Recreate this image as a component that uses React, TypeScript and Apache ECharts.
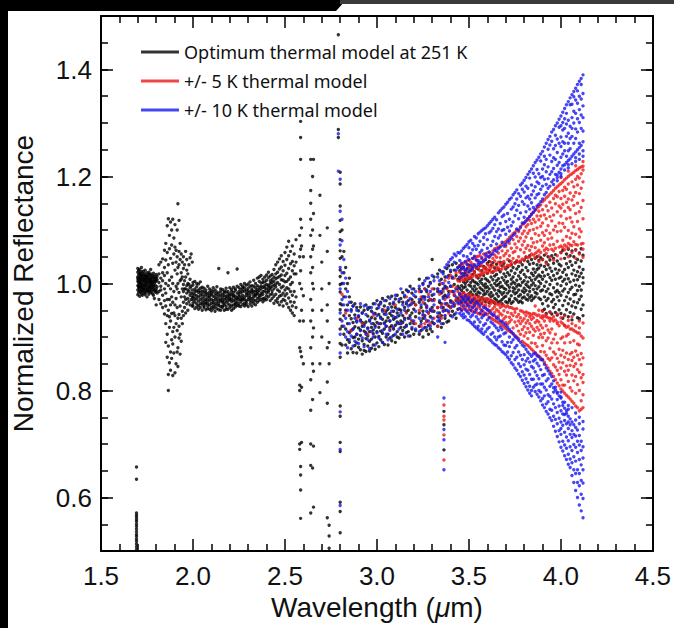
import React, { useEffect, useRef } from "react";
import * as echarts from "echarts";

// ---- Axis / legend text ----
const yMajorTicks = [0.6, 0.8, 1.0, 1.2, 1.4];
const legendNames = ["Optimum thermal model at 251 K", "+/- 5 K thermal model", "+/- 10 K thermal model"];

// ---- Data: each row is [wavelength (µm), reflectance, reflectance, ...] ----
// Optimum model (black)
const blackEdge = [
  [1.693, .503, .508, .513, .518, .522, .527, .531, .536, .541, .546, .55, .555, .559, .563, .567, .571, .634, .657],
];
const blackBlob = [
  [1.700, 1.012, .996, 1.021, .988, 1.004, .979, 1.028, 1.009],
  [1.705, .992, 1.016, 1.001, .983, 1.024, 1.007, .995],
  [1.710, 1.003, .987, 1.018, .976, 1.011, .998, 1.026, .991],
  [1.715, 1.008, .994, 1.019, .984, 1.002, 1.013],
  [1.720, .999, 1.022, .981, 1.007, .993, 1.015, .986, 1.03],
  [1.725, 1.005, .989, 1.017, .997, 1.011, .978],
  [1.730, 1.001, .985, 1.014, .994, 1.023, 1.008, .99],
  [1.735, .996, 1.01, .982, 1.019, 1.004, .988],
  [1.740, 1.006, .991, 1.016, .979, 1.025, .998, 1.012],
  [1.745, 1.002, .987, 1.014, .995, 1.009, .983],
  [1.750, .997, 1.02, .989, 1.006, .975, 1.013, 1.001],
  [1.755, 1.004, .992, 1.017, .986, 1.01],
  [1.760, 1.008, .985, .999, 1.021, .993, 1.013, .98],
  [1.765, .995, 1.007, .988, 1.016, 1.002],
  [1.770, 1.003, .99, 1.018, .997, 1.009, .983, 1.026],
  [1.775, .998, 1.012, .986, 1.004, .992],
  [1.780, 1.006, .994, 1.015, .981, 1.001, 1.011],
  [1.785, .989, 1.003, 1.019, .996, .978],
  [1.790, 1.001, .987, 1.014, .993, 1.008, .972],
  [1.795, .997, 1.011, .984, 1.005],
  [1.800, 1.004, .99, 1.017, .986, 1.009, .96],
  [1.805, .994, 1.007, .982, 1.013],
];
const blackScatter = [
  [1.815, 1.002, .985, 1.018, .97, 1.035],
  [1.825, .995, 1.01, .962, 1.04, .988],
  [1.835, 1.005, .978, 1.046, .955, 1.02],
  [1.845, .99, 1.062, .943, 1.015, .968, 1.03],
  [1.852, 1.075, .925, 1.0, .958, 1.044, .89, .982],
  [1.860, 1.108, .905, 1.02, .94, .97, 1.058, .862],
  [1.866, 1.121, .8, .883, .996, .95, 1.035, .83],
  [1.872, 1.09, .918, .97, 1.065, .852, 1.006, .938],
  [1.878, 1.115, .872, .99, 1.047, .93, .96, .838],
  [1.884, 1.1, .895, 1.012, .944, 1.072, .975, .86],
  [1.890, 1.12, .828, .965, 1.038, .91, 1.0, .887],
  [1.896, 1.085, .945, .87, 1.055, .985, .918],
  [1.902, 1.11, .96, .833, 1.025, .9, 1.068, .94],
  [1.908, 1.062, .925, .995, .85, 1.04, .972],
  [1.914, 1.1, .912, 1.018, .872, .955, 1.05, .99],
  [1.918, 1.149, .88, 1.03, .935, .845, 1.0],
  [1.924, 1.118, .942, 1.06, .898, .983, 1.035, .92],
  [1.930, 1.045, .958, 1.075, .905, 1.005, .868],
  [1.936, 1.02, .935, 1.055, .975, .892, 1.008],
  [1.942, .99, 1.04, .948, 1.012, .925],
  [1.948, 1.05, .965, .998, .94, 1.028, .985],
  [1.954, .975, 1.035, .955, 1.005, .99],
  [1.960, 1.06, .97, .99, .945, 1.012],
  [1.966, .982, 1.025, .962, .996, 1.045],
  [1.972, 1.0, .972, .988, 1.018, .95],
  [1.978, .985, 1.035, .966, .998],
  [1.984, 1.048, .978, .992, .96, 1.008],
  [1.990, .982, 1.055, .97, .995],
  [1.996, 1.04, .975, .988, .958],
];
const blackBand = [
  [2.00, .981, .958, .997, .969, 1.002, .975, .963],
  [2.01, .966, .99, .953, .979, .972, 1.004, .985],
  [2.02, .994, .971, .962, .986, .956, .977, 1.0],
  [2.03, .959, .983, .975, .999, .967, .952, .988],
  [2.04, .978, .962, 1.003, .97, .991, .984, .955],
  [2.05, .95, .973, .986, .961, .98, .993, .966],
  [2.06, .984, .955, .969, .991, .958, .976, .963],
  [2.07, .962, .979, .951, .971, .988, .966, .983],
  [2.08, .975, .995, .963, .953, .981, .969, .958],
  [2.09, .952, .968, .984, .974, .96, .99, .978],
  [2.10, .987, .963, .955, .979, .97, .949, .982],
  [2.11, .968, .958, .992, .964, .976, .985, .953],
  [2.12, .956, .981, .97, .948, .988, .962, .975],
  [2.13, .979, .966, .953, .984, .96, .972, .994],
  [2.14, .963, 1.028, .976, .951, .969, .982, .959],
  [2.15, .985, .957, .967, .978, .95, .99, .971],
  [2.16, .958, .974, .989, .965, .98, .955, .968],
  [2.17, .977, .96, .95, .986, .97, .963, .983],
  [2.18, .966, .984, .972, .957, .991, .976, .952],
  [2.19, .952, 1.02, .962, .979, .968, .985, .974],
  [2.20, .981, .969, .955, .972, .992, .96, .977],
  [2.21, .971, .95, .985, .966, .958, .979, .989],
  [2.22, .96, .978, .968, .993, .975, .953, .983],
  [2.23, .987, .964, .976, .956, .97, .99, .961],
  [2.24, .974, 1.027, .959, .982, .965, .971, .995],
  [2.25, .958, .98, .992, .97, .962, .985, .976],
  [2.26, .983, .966, .975, .998, .957, .989, .97],
  [2.27, .969, .991, .961, .978, .995, .972, .985],
  [2.28, .992, .975, .958, .986, .97, .963, 1.0],
  [2.29, .964, .982, .997, .968, .988, .978, .96],
  [2.30, .986, .97, .981, .957, .999, .975, .991],
  [2.31, .973, .995, .962, .984, .978, 1.003, .968],
  [2.32, .958, .983, .99, .972, .996, .966, .987],
  [2.33, .995, .969, .979, 1.006, .963, .985, .975],
  [2.34, .977, 1.0, .986, .968, .992, .98, .96],
  [2.35, .989, .972, 1.01, .981, .965, .996, .984],
  [2.36, .968, .993, .978, 1.004, .987, .974, 1.012],
  [2.37, 1.001, .982, .97, .995, 1.015, .978, .99],
  [2.38, .985, 1.008, .993, .972, .98, 1.002, .966],
  [2.39, .973, .996, 1.012, .986, 1.003, .969, .992],
  [2.40, .998, .977, .99, 1.016, .983, 1.006, .97],
  [2.41, .988, 1.011, .975, .997, 1.021, .984, .994],
  [2.42, 1.005, .979, .993, .968, 1.014, .99, 1.0],
  [2.43, .981, 1.017, 1.002, .986, .972, 1.008, .995],
  [2.44, 1.012, .99, .976, 1.026, .997, 1.004, .963],
  [2.45, .994, 1.035, .98, 1.009, .968, 1.018, .999],
  [2.46, 1.021, .972, 1.002, .988, 1.04, .965, 1.011],
  [2.47, .985, 1.013, 1.046, .976, .998, 1.027, .96],
  [2.48, 1.007, .966, 1.031, .992, 1.016, .978, 1.052],
  [2.49, .97, 1.024, .995, 1.041, .982, 1.006, .958],
  [2.50, 1.015, .988, 1.058, .968, 1.003, 1.034, .977],
  [2.51, .992, 1.045, .962, 1.019, .981, 1.068, 1.004],
  [2.52, 1.028, .973, 1.008, .955, 1.052, .99, 1.079],
  [2.53, .966, 1.012, 1.037, .985, 1.06, .95, .998],
  [2.54, 1.041, .978, 1.002, 1.07, .958, 1.024, .945],
  [2.55, .985, 1.055, .965, 1.018, .94, 1.033],
  [2.56, 1.018, .975, 1.082, .955, 1.04],
];
const blackSparse = [
  [2.580, 1.09, 1.05, 1.0, .93, .88, .81, .8, .7, .69],
  [2.585, 1.303, 1.273, 1.232, 1.12, 1.064, 1.024, .873, .658, .642, .614, .561],
  [2.590, 1.104, 1.07, .99, .95, .863, .806, .703],
  [2.600, 1.05, .977, .93, .85],
  [2.640, 1.232, 1.174, 1.15, 1.12, 1.09, 1.05, 1.02, .97, .93, .88, .82, .763, .70, .66, .571],
  [2.650, 1.2, 1.1, 1.064, 1.03, 1.0, .95, .9, .85, .783, .655],
  [2.655, 1.232, 1.131, 1.07, .99, .917, .836, .696, .582],
  [2.690, 1.165, 1.09, .85, .796],
  [2.700, 1.04, .99, .95, .9],
  [2.730, 1.104, 1.06, .96, .93, .88, .816, .776, .562],
  [2.740, 1.0, .89, .85, .548, .528, .505],
  [2.790, 1.465, 1.288, 1.273],
  [2.800, 1.208, 1.186, 1.145, 1.118, 1.097, 1.082, 1.061, 1.047, 1.025, 1.013, .998, .984, .962, .951, .933, .915, .888, .862, .771, .752, .703, .686, .591, .574, .534],
];
const blackMid = [
  [2.81, 1.05, 1.0, .96, .92, 1.1, .885],
  [2.82, 1.02, .975, .94, .905, 1.06],
  [2.83, .99, .95, .915, 1.03, .885],
  [2.84, .96, .925, 1.0, .895, .87],
  [2.85, .94, .908, .975, .89, 1.01],
  [2.86, .912, .951, .878, .934, .965],
  [2.87, .899, .927, .958, .871, .915],
  [2.88, .941, .884, .919, .9, .962],
  [2.89, .87, .93, .905, .955, .889],
  [2.90, .917, .949, .881, .938, .896],
  [2.91, .903, .876, .932, .956, .913],
  [2.92, .945, .92, .893, .868, .927],
  [2.93, .886, .911, .95, .924, .875],
  [2.94, .928, .897, .873, .96, .908],
  [2.95, .902, .939, .917, .883, .952],
  [2.96, .955, .874, .91, .93, .892],
  [2.97, .918, .896, .948, .879, .936],
  [2.98, .885, .925, .962, .906, .913],
  [2.99, .934, .9, .877, .944, .921],
  [3.00, .91, .953, .889, .927, .968],
  [3.01, .942, .882, .918, .96, .901],
  [3.02, .925, .965, .895, .937, .911],
  [3.03, .89, .933, .951, .907, .972],
  [3.04, .958, .915, .886, .943, .926],
  [3.05, .93, .9, .968, .92, .948],
  [3.06, .905, .952, .936, .885, .975],
  [3.07, .944, .918, .898, .962, .93],
  [3.08, .921, .976, .94, .893, .956],
  [3.09, .962, .903, .933, .948, .915],
  [3.10, .936, .955, .89, .971, .922],
  [3.11, .91, .945, .978, .928, .9],
  [3.12, .952, .925, .898, .966, .94],
  [3.13, .93, .972, .918, .95, .905],
  [3.14, .965, .912, .94, .983, .927],
  [3.15, .918, .955, .935, .9, .975],
  [3.16, .947, .988, .922, .962, .908],
  [3.17, .935, .91, .968, .95, .985],
  [3.18, .96, .925, .995, .94, .902],
  [3.19, .915, .97, .945, .982, .93],
  [3.20, .952, .99, .925, .965, .905],
  [3.21, .938, .975, .912, .96],
  [3.23, .965, .92, .99, .945, .905, 1.008],
  [3.24, .93, .985, .955, .912, .97],
  [3.25, .975, .948, .9, 1.0, .935],
  [3.26, .918, .962, .99, .94, .975],
  [3.27, .985, .93, .955, 1.01, .912],
  [3.28, .945, .995, .922, .968, .905],
  [3.29, .97, .915, 1.002, .95, .938],
  [3.30, .928, .978, .955, 1.045, .91],
  [3.31, .99, .948, .97, .925, 1.012],
  [3.33, .955, 1.018, .938, .985, .92],
  [3.34, .998, .93, .965, 1.025, .945],
  [3.35, .94, .982, 1.008, .918, .962],
  [3.36, .975, .925, .99, .955, 1.022],
  [3.364, .761, .736, .689],
  [3.37, .95, 1.012, .935, .978, .995],
  [3.38, .992, .962, 1.028, .928, .975],
  [3.39, .93, .985, .958, 1.015, 1.033],
  [3.40, .968, 1.022, .94, .995, .955],
  [3.41, 1.01, .948, .985, 1.035, .965],
  [3.42, .958, .998, 1.025, .942, .978],
  [3.43, .99, .935, 1.015, .968, 1.038],
  [3.44, .972, 1.03, .952, .995, 1.008],
];
const blackWide = [
  [3.45, .991, .968, 1.024, .979, 1.006, 1.033],
  [3.46, 1.012, .975, .996, .964, 1.029, .987],
  [3.47, .983, 1.018, .97, 1.003, .992, 1.031],
  [3.48, 1.021, .966, .994, 1.008, .977, 1.0],
  [3.49, .973, 1.004, 1.027, .988, .963, 1.015],
  [3.50, 1.009, .981, .969, 1.034, .997, .976],
  [3.51, .995, 1.026, .984, .965, 1.011, 1.002],
  [3.52, .968, .99, 1.017, 1.031, .979, 1.006],
  [3.53, 1.003, .972, 1.022, .986, .995, .963],
  [3.54, .98, 1.014, .967, 1.001, 1.029, .99],
  [3.55, 1.027, .998, .976, 1.01, .966, .984],
  [3.56, .992, .969, 1.033, .982, 1.016, 1.004],
  [3.57, .974, 1.008, .989, 1.024, .963, 1.0],
  [3.58, 1.015, .986, .97, .996, 1.032, .979],
  [3.59, .999, 1.028, .981, .966, 1.009, .992],
  [3.60, .985, .971, 1.019, 1.038, .994, 1.006],
  [3.61, 1.025, .99, .964, 1.003, .979, 1.041],
  [3.62, .968, 1.012, .997, .983, 1.034, .975],
  [3.63, 1.007, .978, 1.039, .992, .966, 1.021],
  [3.64, .988, 1.029, .972, 1.014, 1.0, .963],
  [3.65, 1.036, .996, .981, .969, 1.017, 1.005],
  [3.66, .976, 1.009, 1.026, .987, .965, .998],
  [3.67, 1.002, .967, .993, 1.04, .984, 1.022],
  [3.68, .98, 1.033, 1.011, .97, .995, .962],
  [3.69, 1.018, .991, .974, 1.006, 1.038, .983],
  [3.70, .966, 1.001, 1.027, .989, .976, 1.013],
  [3.71, 1.031, .982, .997, .964, 1.02, 1.004],
  [3.72, .993, 1.016, .971, 1.042, .986, .968],
  [3.73, 1.008, .977, 1.035, .999, .963, 1.024],
  [3.74, .985, 1.012, .966, 1.003, 1.03, .992],
  [3.75, 1.039, .972, .99, 1.019, .981, 1.0],
  [3.76, .969, 1.027, 1.006, .983, 1.041, .995],
  [3.77, 1.014, .988, .965, 1.032, .998, .976],
  [3.78, .996, 1.04, .979, 1.009, .967, 1.021],
  [3.79, 1.025, .973, 1.002, .986, 1.035, .964],
  [3.80, .991, 1.017, 1.044, .975, 1.005, .983],
  [3.81, 1.03, .998, .971, 1.012, 1.049, .987],
  [3.82, .979, 1.024, 1.003, 1.041, .969, .995],
  [3.83, 1.011, .985, 1.036, .992, 1.052, .974],
  [3.84, .997, 1.045, .977, 1.019, 1.006, .968],
  [3.85, 1.038, 1.001, .989, .972, 1.027, 1.015],
  [3.86, .983, 1.021, 1.047, 1.008, .975, .996],
  [3.87, 1.026, .99, 1.012, 1.05, .981, 1.035],
  [3.88, 1.004, 1.043, .973, 1.029, .994, 1.016],
  [3.89, 1.048, 1.013, .986, 1.034, 1.0, .97],
  [3.90, .962, 1.021, 1.045, .988, 1.008, .949],
  [3.91, 1.032, .975, .952, 1.014, 1.053, .995],
  [3.92, .985, 1.04, 1.003, .944, .968, 1.026],
  [3.93, 1.05, .958, 1.017, .99, 1.035, .972],
  [3.94, .947, 1.011, .981, 1.044, .998, 1.029],
  [3.95, 1.023, .966, 1.052, .979, .943, 1.006],
  [3.96, .992, 1.038, .955, 1.015, .97, 1.047],
  [3.97, 1.008, .946, 1.027, .984, 1.054, .961],
  [3.98, .975, 1.019, .999, .941, 1.042, .987],
  [3.99, 1.036, .983, .951, 1.01, .968, 1.025],
  [4.00, .944, 1.012, 1.058, .978, .996, 1.033],
  [4.01, 1.021, .959, .986, 1.062, .935, 1.004],
  [4.02, .99, 1.047, .968, 1.026, 1.008, .941],
  [4.03, 1.055, .975, 1.016, .951, .999, 1.037],
  [4.04, .962, 1.03, .983, 1.064, 1.009, .938],
  [4.05, 1.003, .946, 1.041, .971, 1.052, .989],
  [4.06, 1.034, .993, .958, 1.018, .932, 1.061],
  [4.07, .979, 1.05, 1.006, .943, 1.025, .966],
  [4.08, 1.015, .955, 1.063, .997, .98, 1.039],
  [4.09, .936, 1.022, .987, 1.045, .964, 1.007],
  [4.10, 1.057, .97, 1.013, .934, 1.031, .995],
  [4.11, .988, 1.042, .952, 1.019, 1.065, .976],
  [4.12, 1.026, .96, 1.001, 1.053, .94, 1.011],
];

// +/- 5 K model (red)
const redMid = [
  [2.81, .98], [2.83, .945], [2.86, .912], [2.89, .935], [2.92, .925], [2.95, .905],
  [2.98, .94], [3.01, .925], [3.04, .95], [3.07, .915], [3.10, .96], [3.13, .925],
  [3.16, .945, .975], [3.19, .93, .965], [3.21, .96, .925], [3.23, .95, .985],
  [3.24, .92, .975], [3.25, .965, .94], [3.26, .99, .925], [3.27, .958, .93],
  [3.28, .98, .945], [3.29, .925, .97], [3.30, .99, .95], [3.31, .968, .935],
  [3.33, .955, .99, .92], [3.34, .98, .94], [3.35, .96, 1.0, .935], [3.36, .985, .95],
  [3.364, .773, .752, .745, .717, .67],
  [3.37, .97, 1.005, .94], [3.38, .99, .96], [3.39, .975, 1.01, .945],
  [3.40, .985, .955, 1.015], [3.41, .995, .965], [3.42, .98, 1.01, .96],
  [3.43, .992, .97, 1.02], [3.44, .985, 1.005, .962],
];
const redWide = [
  [3.45, 1.021, 1.004, 1.033, 1.012, .968, .953, .981, .975],
  [3.46, 1.009, 1.03, 1.018, 1.036, .958, .979, .951, .971],
  [3.47, 1.027, 1.006, 1.038, 1.015, .975, .962, .983, .953],
  [3.48, 1.013, 1.04, 1.024, 1.007, .955, .98, .967, .972],
  [3.49, 1.035, 1.019, 1.009, 1.042, .978, .949, .964, .959],
  [3.50, 1.022, 1.044, 1.011, 1.031, .961, .974, .952, .98],
  [3.51, 1.04, 1.016, 1.028, 1.01, .95, .969, .977, .958],
  [3.52, 1.025, 1.047, 1.013, 1.036, .972, .947, .963, .955],
  [3.53, 1.018, 1.033, 1.048, 1.021, .958, .976, .949, .967],
  [3.54, 1.044, 1.012, 1.029, 1.05, .946, .962, .971, .953],
  [3.55, 1.03, 1.051, 1.016, 1.039, .968, .944, .975, .957],
  [3.56, 1.014, 1.037, 1.052, 1.024, .953, .972, .961, .943],
  [3.57, 1.046, 1.021, 1.033, 1.017, .965, .942, .973, .95],
  [3.58, 1.028, 1.055, 1.019, 1.042, .947, .958, .941, .969],
  [3.59, 1.051, 1.03, 1.022, 1.045, .96, .972, .944, .955],
  [3.60, 1.036, 1.019, 1.057, 1.026, .942, .966, .951, .97],
  [3.61, 1.024, 1.049, 1.032, 1.058, .958, .937, .97, .946],
  [3.62, 1.055, 1.029, 1.04, 1.021, .963, .949, .935, .968],
  [3.63, 1.033, 1.061, 1.022, 1.047, .94, .967, .953, .933],
  [3.64, 1.042, 1.024, 1.065, 1.053, .957, .931, .946, .965],
  [3.65, 1.066, 1.031, 1.049, 1.025, .936, .962, .929, .951],
  [3.66, 1.029, 1.057, 1.04, 1.068, .948, .927, .96, .939],
  [3.67, 1.048, 1.026, 1.07, 1.035, .962, .944, .924, .955],
  [3.68, 1.061, 1.039, 1.027, 1.073, .93, .958, .941, .921],
  [3.69, 1.032, 1.076, 1.052, 1.041, .949, .919, .959, .934],
  [3.70, 1.069, 1.03, 1.056, 1.078, .938, .956, .916, .927],
  [3.71, 1.045, 1.082, 1.034, 1.061, .924, .946, .958, .913],
  [3.72, 1.075, 1.052, 1.033, 1.086, .955, .911, .937, .928],
  [3.73, 1.041, 1.089, 1.066, 1.036, .932, .955, .909, .944],
  [3.74, 1.082, 1.047, 1.093, 1.058, .917, .94, .953, .906],
  [3.75, 1.06, 1.038, 1.096, 1.074, .946, .903, .928, .952],
  [3.76, 1.088, 1.043, 1.067, 1.1, .921, .953, .9, .938],
  [3.77, 1.05, 1.097, 1.04, 1.079, .942, .911, .93, .897],
  [3.78, 1.104, 1.063, 1.085, 1.042, .905, .949, .925, .936],
  [3.79, 1.072, 1.11, 1.046, 1.093, .93, .892, .948, .914],
  [3.80, 1.058, 1.098, 1.113, 1.043, 1.079, .919, .889, .945, .902, .934],
  [3.81, 1.106, 1.05, 1.087, 1.117, 1.066, .94, .908, .886, .926, .947],
  [3.82, 1.071, 1.121, 1.048, 1.094, 1.11, .897, .931, .945, .884, .916],
  [3.83, 1.118, 1.062, 1.099, 1.05, 1.125, .925, .881, .909, .944, .938],
  [3.84, 1.084, 1.13, 1.055, 1.112, 1.069, .889, .941, .92, .877, .933],
  [3.85, 1.101, 1.053, 1.133, 1.076, 1.12, .936, .903, .874, .944, .915],
  [3.86, 1.067, 1.137, 1.093, 1.056, 1.115, .911, .87, .943, .927, .888],
  [3.87, 1.126, 1.078, 1.141, 1.059, 1.104, .882, .94, .867, .918, .931],
  [3.88, 1.09, 1.144, 1.062, 1.119, 1.135, .928, .899, .941, .864, .913],
  [3.89, 1.147, 1.081, 1.126, 1.058, 1.107, .873, .937, .861, .905, .922],
  [3.90, 1.113, 1.153, 1.07, 1.138, 1.095, .94, .884, .858, .917, .899],
  [3.91, 1.076, 1.128, 1.156, 1.09, 1.062, .907, .853, .93, .872, .939],
  [3.92, 1.145, 1.099, 1.066, 1.16, 1.121, .866, .921, .847, .938, .893],
  [3.93, 1.108, 1.163, 1.083, 1.136, 1.063, .936, .86, .898, .842, .913],
  [3.94, 1.152, 1.072, 1.125, 1.167, 1.094, .879, .935, .836, .908, .857],
  [3.95, 1.085, 1.17, 1.117, 1.064, 1.141, .915, .832, .889, .934, .861],
  [3.96, 1.128, 1.073, 1.174, 1.1, 1.159, .848, .93, .826, .896, .872],
  [3.97, 1.165, 1.107, 1.066, 1.149, 1.178, .905, .82, .868, .932, .844],
  [3.98, 1.079, 1.134, 1.181, 1.097, 1.162, .838, .928, .814, .889, .86],
  [3.99, 1.172, 1.068, 1.145, 1.113, 1.184, .921, .853, .809, .877, .83],
  [4.00, 1.098, 1.187, 1.126, 1.07, 1.159, 1.141, .866, .803, .928, .842, .897, .82],
  [4.01, 1.174, 1.112, 1.19, 1.081, 1.148, 1.067, .81, .875, .925, .799, .852, .9],
  [4.02, 1.135, 1.194, 1.072, 1.163, 1.105, 1.18, .889, .795, .836, .921, .862, .81],
  [4.03, 1.088, 1.152, 1.197, 1.121, 1.069, 1.176, .829, .918, .791, .87, .846, .902],
  [4.04, 1.186, 1.099, 1.142, 1.2, 1.075, 1.158, .905, .788, .858, .817, .92, .838],
  [4.05, 1.123, 1.203, 1.085, 1.169, 1.138, 1.072, .847, .915, .784, .89, .805, .868],
  [4.06, 1.19, 1.071, 1.156, 1.115, 1.205, 1.094, .78, .871, .829, .915, .799, .856],
  [4.07, 1.146, 1.208, 1.078, 1.181, 1.106, 1.163, .893, .776, .845, .912, .818, .862],
  [4.08, 1.092, 1.17, 1.211, 1.131, 1.073, 1.195, .826, .91, .771, .874, .85, .795],
  [4.09, 1.2, 1.116, 1.072, 1.184, 1.15, 1.213, .866, .768, .908, .811, .839, .887],
  [4.10, 1.134, 1.216, 1.087, 1.168, 1.197, 1.102, .8, .885, .762, .907, .834, .858],
  [4.11, 1.178, 1.097, 1.218, 1.142, 1.074, 1.205, .869, .781, .902, .824, .765, .848],
  [4.12, 1.121, 1.19, 1.075, 1.212, 1.155, 1.219, .792, .861, .768, .898, .83, .815],
];
const redFringe = [
  [3.86, 1.048, .958],
  [3.88, 1.052, 1.041, .95],
  [3.90, 1.045, .948, .935],
  [3.92, 1.056, 1.038, .942],
  [3.94, 1.049, .946, .93],
  [3.96, 1.061, 1.044, .938],
  [3.98, 1.052, .943, .925],
  [4.00, 1.058, 1.046, 1.198, .936],
  [4.02, 1.063, .94, .922],
  [4.04, 1.05, 1.066, 1.21, .931],
  [4.06, 1.058, .925, .938],
  [4.08, 1.047, 1.062, 1.22, .921],
  [4.10, 1.055, .93, .917],
  [4.12, 1.064, 1.049, 1.228, .926],
];

// +/- 10 K model (blue)
const blueMid = [
  [2.79, 1.28, 1.21],
  [2.80, 1.195, 1.135, 1.072, 1.03, .99, .945, .905, .87, .76, .69, .585],
  [2.81, 1.08, 1.02, .97, .93, 1.12],
  [2.82, 1.0, .96, .92, 1.045],
  [2.83, .975, .935, .9, 1.01],
  [2.84, .95, .91, .985, .88],
  [2.85, .925, .965, .895],
  [2.86, .948, .902],
  [2.87, .915, .958, .883],
  [2.88, .935, .892],
  [2.89, .905, .95, .928],
  [2.90, .888, .94],
  [2.91, .93, .912, .962],
  [2.92, .898, .945],
  [2.93, .92, .958, .882],
  [2.94, .942, .905],
  [2.95, .915, .895, .955],
  [2.96, .932, .878],
  [2.97, .955, .91, .925],
  [2.98, .9, .945],
  [2.99, .918, .885, .962],
  [3.00, .94, .908],
  [3.01, .898, .955, .925],
  [3.02, .935, .962],
  [3.03, .912, .89, .948],
  [3.04, .968, .925],
  [3.05, .905, .942, .92],
  [3.06, .955, .895],
  [3.07, .93, .972, .912],
  [3.08, .948, .9],
  [3.09, .918, .965, .938],
  [3.10, .905, .978],
  [3.11, .952, .925, .938],
  [3.12, .915, .97],
  [3.13, .945, .99, .925],
  [3.14, .905, .96],
  [3.15, .932, .978, .95],
  [3.16, .92, .965],
  [3.17, .958, .902, .985],
  [3.18, .935, .972],
  [3.19, .962, .918, .99],
  [3.20, .93, .978],
  [3.21, .948, .915, .985],
  [3.23, .935, .97, .91, .995],
  [3.24, .96, .925, .985],
  [3.25, .942, .998, .915, .975],
  [3.26, .97, .935, 1.005],
  [3.27, .918, .958, .988, .948],
  [3.28, .975, .93, 1.01],
  [3.29, .952, .92, .985, 1.0],
  [3.30, .935, .968, 1.015, .948],
  [3.31, .98, .925, .96, 1.005],
  [3.33, .945, .99, .93, 1.012, .9],
  [3.34, .968, 1.005, .935, .985],
  [3.35, .955, .925, 1.022, .985],
  [3.36, 1.0, .948, .972, 1.018],
  [3.364, .786, .727, .708, .652],
  [3.37, .962, 1.03, .94, .992, .89],
  [3.38, .975, 1.012, .95, 1.035],
  [3.39, 1.002, .948, 1.04, .98],
  [3.40, .965, 1.025, .995, 1.045],
  [3.41, 1.012, .958, 1.048, .938],
  [3.42, .985, 1.04, .962, 1.055],
  [3.43, 1.025, .975, 1.052, .945],
  [3.44, .99, 1.058, .965, 1.03],
];
const blueWide = [
  [3.45, 1.032, 1.011, 1.057, 1.043, .962, .944, .981, .953],
  [3.46, 1.019, 1.061, 1.038, 1.027, .975, .949, .967, .94],
  [3.47, 1.052, 1.03, 1.014, 1.066, .943, .972, .958, .936],
  [3.48, 1.041, 1.069, 1.025, 1.017, .966, .938, .977, .951],
  [3.49, 1.028, 1.05, 1.073, 1.036, .947, .97, .932, .96],
  [3.50, 1.067, 1.022, 1.045, 1.078, .957, .931, .973, .944],
  [3.51, 1.034, 1.081, 1.056, 1.024, .938, .965, .927, .95],
  [3.52, 1.075, 1.047, 1.028, 1.063, .969, .924, .955, .941],
  [3.53, 1.051, 1.088, 1.035, 1.07, .928, .959, .92, .946],
  [3.54, 1.085, 1.032, 1.064, 1.044, .951, .917, .938, .965],
  [3.55, 1.043, 1.071, 1.093, 1.036, .92, .962, .933, .914],
  [3.56, 1.079, 1.04, 1.058, 1.096, .945, .911, .958, .928],
  [3.57, 1.062, 1.099, 1.048, 1.039, .915, .949, .908, .936],
  [3.58, 1.042, 1.073, 1.102, 1.086, .955, .922, .905, .94],
  [3.59, 1.093, 1.055, 1.045, 1.104, .91, .943, .925, .954],
  [3.60, 1.066, 1.108, 1.051, 1.082, .932, .9, .951, .915],
  [3.61, 1.112, 1.059, 1.095, 1.05, .949, .918, .896, .936],
  [3.62, 1.071, 1.116, 1.053, 1.098, .905, .944, .928, .893],
  [3.63, 1.103, 1.056, 1.12, 1.079, .925, .889, .942, .908],
  [3.64, 1.062, 1.088, 1.124, 1.11, .94, .9, .886, .921],
  [3.65, 1.119, 1.074, 1.06, 1.097, .895, .936, .917, .884],
  [3.66, 1.085, 1.132, 1.102, 1.065, .912, .88, .934, .9],
  [3.67, 1.136, 1.068, 1.112, 1.09, .877, .93, .902, .918],
  [3.68, 1.077, 1.125, 1.14, 1.099, .928, .891, .873, .914],
  [3.69, 1.143, 1.101, 1.07, 1.128, .885, .925, .87, .906],
  [3.70, 1.092, 1.148, 1.116, 1.073, .908, .867, .922, .884],
  [3.71, 1.131, 1.078, 1.152, 1.105, .872, .918, .89, .862],
  [3.72, 1.098, 1.157, 1.12, 1.081, .914, .858, .882, .9],
  [3.73, 1.16, 1.108, 1.085, 1.139, .865, .91, .852, .89],
  [3.74, 1.115, 1.166, 1.143, 1.09, .895, .848, .906, .871],
  [3.75, 1.149, 1.093, 1.127, 1.17, .858, .901, .842, .88],
  [3.76, 1.102, 1.175, 1.137, 1.158, .884, .838, .898, .862],
  [3.77, 1.168, 1.121, 1.1, 1.146, .85, .894, .831, .872],
  [3.78, 1.132, 1.184, 1.106, 1.163, .89, .826, .866, .845],
  [3.79, 1.176, 1.113, 1.153, 1.188, .835, .885, .819, .858],
  [3.80, 1.124, 1.193, 1.148, 1.113, 1.171, .867, .813, .848, .882, .829],
  [3.81, 1.182, 1.134, 1.198, 1.16, 1.117, .822, .877, .807, .855, .84],
  [3.82, 1.145, 1.204, 1.121, 1.178, 1.163, .872, .801, .838, .86, .815],
  [3.83, 1.197, 1.158, 1.125, 1.209, 1.139, .808, .853, .868, .795, .83],
  [3.84, 1.151, 1.214, 1.184, 1.129, 1.166, .845, .79, .864, .821, .8],
  [3.85, 1.206, 1.142, 1.173, 1.22, 1.133, .842, .806, .868, .821, .855],
  [3.86, 1.16, 1.226, 1.138, 1.199, 1.181, .81, .858, .798, .835, .87],
  [3.87, 1.213, 1.145, 1.19, 1.231, 1.166, .851, .793, .828, .865, .812],
  [3.88, 1.168, 1.236, 1.205, 1.148, 1.187, .8, .846, .863, .788, .822],
  [3.89, 1.229, 1.176, 1.153, 1.242, 1.198, .839, .781, .858, .812, .797],
  [3.90, 1.182, 1.247, 1.214, 1.158, 1.2, .785, .828, .857, .773, .812],
  [3.91, 1.238, 1.166, 1.195, 1.255, 1.222, .83, .768, .806, .849, .79],
  [3.92, 1.185, 1.262, 1.232, 1.17, 1.209, .775, .818, .842, .761, .801],
  [3.93, 1.251, 1.178, 1.218, 1.269, 1.196, .822, .756, .792, .837, .779],
  [3.94, 1.204, 1.275, 1.182, 1.24, 1.259, .765, .808, .831, .749, .789],
  [3.95, 1.266, 1.19, 1.228, 1.283, 1.209, .812, .744, .784, .826, .763],
  [3.96, 1.215, 1.288, 1.252, 1.194, 1.235, .752, .797, .818, .733, .775],
  [3.97, 1.277, 1.204, 1.232, 1.295, 1.258, .801, .724, .768, .806, .746],
  [3.98, 1.221, 1.3, 1.27, 1.203, 1.245, .738, .783, .797, .714, .759],
  [3.99, 1.292, 1.226, 1.208, 1.262, 1.307, .79, .704, .748, .771, .725],
  [4.00, 1.236, 1.313, 1.274, 1.214, 1.256, 1.295, .718, .762, .786, .694, .741, .729],
  [4.01, 1.301, 1.22, 1.265, 1.32, 1.242, 1.287, .772, .687, .735, .756, .705, .778],
  [4.02, 1.248, 1.327, 1.29, 1.222, 1.308, 1.262, .698, .744, .767, .678, .722, .755],
  [4.03, 1.318, 1.238, 1.275, 1.334, 1.226, 1.298, .757, .671, .713, .738, .692, .762],
  [4.04, 1.262, 1.34, 1.23, 1.305, 1.281, 1.248, .681, .729, .752, .662, .706, .741],
  [4.05, 1.334, 1.252, 1.294, 1.233, 1.347, 1.271, .736, .656, .695, .747, .672, .718],
  [4.06, 1.275, 1.353, 1.31, 1.238, 1.29, 1.335, .665, .712, .741, .641, .688, .725],
  [4.07, 1.349, 1.262, 1.242, 1.322, 1.3, 1.359, .718, .628, .676, .736, .652, .699],
  [4.08, 1.289, 1.365, 1.318, 1.246, 1.343, 1.271, .645, .694, .731, .613, .668, .715],
  [4.09, 1.36, 1.283, 1.25, 1.337, 1.308, 1.372, .705, .6, .652, .726, .628, .684],
  [4.10, 1.301, 1.378, 1.262, 1.35, 1.325, 1.254, .622, .671, .716, .586, .645, .698],
  [4.11, 1.372, 1.29, 1.345, 1.258, 1.383, 1.315, .688, .575, .632, .705, .606, .661],
  [4.12, 1.31, 1.39, 1.265, 1.355, 1.332, 1.285, .598, .652, .695, .562, .627, .674],
];
const blueFringe = [
  [3.96, 1.185, .805],
  [3.98, 1.192, 1.198, .795],
  [4.00, 1.2, 1.205, .788, .797],
  [4.02, 1.212, .778],
  [4.04, 1.216, 1.222, .772, .765],
  [4.06, 1.224, .768],
  [4.08, 1.228, 1.235, .758, .745],
  [4.10, 1.232, 1.242, .75, .738],
  [4.12, 1.238, 1.248, .742, .728],
];

const toPoints = (rows: number[][]) =>
  rows.flatMap((r) => r.slice(1).map((y) => [r[0], y]));

const AXIS_FONT = "'Liberation Sans', Arial, Helvetica, sans-serif";
const LEGEND_FONT = "'Noto Sans', 'Open Sans', sans-serif";

const tickLine = { color: "#000", width: 1.5 };
const axisLine = { show: true, onZero: false, lineStyle: { color: "#000", width: 2 } };
const DOT = 3.4;

export default function App() {
  const ref = useRef<HTMLDivElement>(null);
  useEffect(() => {
    if (!ref.current) return;
    document.documentElement.style.background = "#fff";
    document.documentElement.style.overflow = "hidden";
    document.body.style.margin = "0";
    const chart = echarts.init(ref.current, null, { renderer: "svg" });
    const xCommon = {
      type: "value",
      min: 1.5,
      max: 4.5,
      interval: 0.5,
      axisLine,
      axisTick: { show: true, inside: true, length: 12, lineStyle: tickLine },
      minorTick: { show: true, splitNumber: 5, length: 7, lineStyle: tickLine },
      splitLine: { show: false },
      minorSplitLine: { show: false },
    };
    const yMajor = {
      type: "value",
      min: 0.5,
      max: 1.5,
      interval: 0.1,
      axisLine,
      axisTick: { show: true, inside: true, length: 12, lineStyle: tickLine, customValues: yMajorTicks },
      splitLine: { show: false },
    };
    const yMinor = {
      type: "value",
      min: 0.5,
      max: 1.5,
      interval: 0.05,
      axisLine: { show: false },
      axisTick: { show: true, inside: true, length: 7, lineStyle: tickLine },
      axisLabel: { show: false },
      splitLine: { show: false },
    };
    const option = {
      animation: false,
      backgroundColor: "#ffffff",
      grid: { left: 101, right: 21, top: 16, bottom: 77 },
      legend: {
        orient: "vertical",
        left: 141,
        top: 42,
        padding: 0,
        icon: "rect",
        itemWidth: 38,
        itemHeight: 3,
        itemGap: 9,
        data: legendNames,
        selectedMode: false,
        textStyle: { fontFamily: LEGEND_FONT, fontSize: 18, color: "#111", lineHeight: 20 },
      },
      xAxis: [
        {
          ...xCommon,
          position: "bottom",
          axisLabel: {
            show: true,
            fontSize: 26,
            fontFamily: AXIS_FONT,
            color: "#111",
            margin: 12,
            formatter: (v: number) => v.toFixed(1),
          },
          name: "{t|Wavelength (}{i|μ}{t|m)}",
          nameLocation: "middle",
          nameGap: 42,
          nameTextStyle: {
            rich: {
              t: { fontSize: 28, fontFamily: AXIS_FONT, color: "#111" },
              i: { fontSize: 28, fontFamily: AXIS_FONT, color: "#111", fontStyle: "italic" },
            },
          },
        },
        { ...xCommon, position: "top", axisLabel: { show: false } },
      ],
      yAxis: [
        {
          ...yMajor,
          position: "left",
          axisLabel: {
            show: true,
            customValues: yMajorTicks,
            fontSize: 26,
            fontFamily: AXIS_FONT,
            color: "#111",
            margin: 9,
            formatter: (v: number) => v.toFixed(1),
          },
          name: "Normalized Reflectance",
          nameLocation: "middle",
          nameGap: 64,
          nameTextStyle: { fontSize: 28, fontFamily: AXIS_FONT, color: "#111" },
        },
        { ...yMajor, position: "right", axisLabel: { show: false } },
        { ...yMinor, position: "left" },
        { ...yMinor, position: "right" },
      ],
      graphic: [
        { type: "polygon", z: 101, shape: { points: [[0, 0], [346, 0], [336, 11], [0, 11]] }, style: { fill: "#000" } },
        { type: "rect", z: 101, shape: { x: 340, y: 0, width: 334, height: 4 }, style: { fill: "#3a3a3a" } },
        { type: "rect", z: 101, shape: { x: 0, y: 0, width: 8, height: 628 }, style: { fill: "#000" } },
      ],
      series: [
        {
          name: legendNames[0],
          type: "scatter",
          symbol: "circle",
          symbolSize: DOT,
          itemStyle: { color: "#000000" },
          data: toPoints([...blackEdge, ...blackBlob, ...blackScatter, ...blackBand, ...blackSparse, ...blackMid, ...blackWide]),
        },
        {
          name: legendNames[1],
          type: "scatter",
          symbol: "circle",
          symbolSize: DOT,
          itemStyle: { color: "#f01818" },
          data: toPoints([...redMid, ...redWide, ...redFringe]),
        },
        {
          name: legendNames[2],
          type: "scatter",
          symbol: "circle",
          symbolSize: DOT,
          itemStyle: { color: "#1818f0" },
          data: toPoints([...blueMid, ...blueWide, ...blueFringe]),
        },
      ],
    };
    chart.setOption(option as any);
    return () => chart.dispose();
  }, []);
  return (
    <div
      ref={ref}
      style={{ position: "absolute", left: 0, top: 0, width: 674, height: 628, background: "#fff" }}
    />
  );
}
